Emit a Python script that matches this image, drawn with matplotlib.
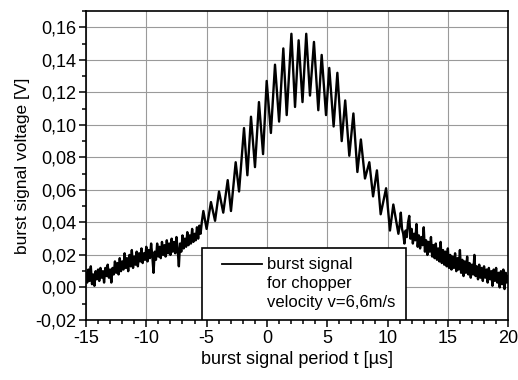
import matplotlib
matplotlib.use("Agg")
import matplotlib.pyplot as plt
import numpy as np
from matplotlib.ticker import MultipleLocator, FuncFormatter
from matplotlib.patches import Rectangle

plt.rcParams['font.family'] = ['Liberation Sans', 'DejaVu Sans']
plt.rcParams['axes.unicode_minus'] = False

# left tail of the burst, sampled every 0.1 us starting at -15 us  [V]
v_left = [0.009, 0.003, 0.011, 0.004, 0.013, 0.002, 0.008, 0.001, 0.010, 0.005,
          0.011, 0.004, 0.012, 0.006, 0.010, 0.003, 0.012, 0.007, 0.014, 0.006,
          0.011, 0.003, 0.012, 0.008, 0.016, 0.009, 0.015, 0.008, 0.018, 0.010,
          0.016, 0.011, 0.021, 0.012, 0.018, 0.010, 0.020, 0.013, 0.023, 0.012,
          0.019, 0.014, 0.022, 0.013, 0.021, 0.016, 0.024, 0.015, 0.021, 0.017,
          0.025, 0.016, 0.023, 0.018, 0.027, 0.019, 0.009, 0.022, 0.017, 0.027,
          0.019, 0.025, 0.018, 0.028, 0.020, 0.026, 0.019, 0.029, 0.021, 0.027,
          0.020, 0.030, 0.022, 0.028, 0.021, 0.031, 0.023, 0.013, 0.027, 0.022,
          0.032, 0.024, 0.030, 0.025, 0.034, 0.026, 0.032, 0.027, 0.036, 0.028,
          0.033, 0.029, 0.037, 0.030, 0.038, 0.033, 0.040]

# central part: alternating maxima / minima of the chopper oscillation
t_mid = [-5.27, -5.0, -4.64, -4.30, -3.97, -3.62, -3.25, -2.98, -2.59, -2.31,
         -1.90, -1.62, -1.32, -0.99, -0.66, -0.32, -0.02, 0.33, 0.67, 1.01,
         1.36, 1.64, 2.03, 2.33, 2.63, 2.95, 3.26, 3.57, 3.90, 4.26,
         4.54, 4.90, 5.17, 5.53, 5.84, 6.20, 6.49, 6.83, 7.17, 7.50,
         7.79, 8.13, 8.49, 8.80, 9.12, 9.43, 9.88, 10.20, 10.48, 10.90]
v_mid = [0.047, 0.036, 0.0525, 0.041, 0.059, 0.046, 0.066, 0.047, 0.077, 0.059,
         0.098, 0.069, 0.105, 0.074, 0.114, 0.082, 0.127, 0.095, 0.137, 0.102,
         0.147, 0.106, 0.156, 0.111, 0.152, 0.114, 0.156, 0.118, 0.151, 0.109,
         0.143, 0.106, 0.135, 0.099, 0.132, 0.090, 0.115, 0.081, 0.107, 0.071,
         0.091, 0.067, 0.077, 0.056, 0.072, 0.045, 0.061, 0.035, 0.051, 0.033]

# right tail, sampled every 0.1 us starting at 11 us  [V]
v_right = [0.038, 0.046, 0.036, 0.033, 0.027, 0.035, 0.031, 0.040, 0.044, 0.030,
           0.036, 0.027, 0.033, 0.029, 0.039, 0.025, 0.032, 0.024, 0.031, 0.026,
           0.037, 0.022, 0.029, 0.020, 0.028, 0.022, 0.031, 0.019, 0.026, 0.018,
           0.027, 0.017, 0.024, 0.016, 0.028, 0.015, 0.023, 0.014, 0.022, 0.013,
           0.024, 0.012, 0.020, 0.011, 0.019, 0.012, 0.021, 0.010, 0.018, 0.011,
           0.023, 0.009, 0.017, 0.007, 0.016, 0.009, 0.019, 0.008, 0.015, 0.006,
           0.014, 0.008, 0.020, 0.007, 0.013, 0.005, 0.014, 0.006, 0.012, 0.004,
           0.013, 0.006, 0.011, 0.003, 0.012, 0.005, 0.010, 0.001, 0.011, 0.004,
           0.012, 0.003, 0.009, 0.000, 0.010, 0.002, 0.011, -0.001, 0.009, 0.003,
           0.007]

legend_lines = ["burst signal", "for chopper", "velocity v=6,6m/s"]

t_left = -15 + 0.1 * np.arange(len(v_left))
t_right = 11.0 + 0.1 * np.arange(len(v_right))

fig = plt.figure(figsize=(5.18, 3.80), dpi=100)
ax = fig.add_axes([0.166, 0.158, 0.815, 0.813])

t_all = np.concatenate([t_left, t_mid, t_right])
v_all = np.concatenate([v_left, v_mid, v_right])
ax.plot(t_all, v_all, color='black', lw=1.7, zorder=3)

ax.set_xlim(-15, 20)
ax.set_ylim(-0.02, 0.17)
ax.xaxis.set_major_locator(MultipleLocator(5))
ax.xaxis.set_minor_locator(MultipleLocator(1))
ax.yaxis.set_major_locator(MultipleLocator(0.02))
ax.yaxis.set_minor_locator(MultipleLocator(0.01))
ax.yaxis.set_major_formatter(FuncFormatter(lambda v, p: ("%.2f" % v).replace('.', ',')))
ax.xaxis.set_major_formatter(FuncFormatter(lambda v, p: "%d" % round(v)))

ax.tick_params(which='both', direction='out', top=False, right=False,
               labelsize=13, width=1.1)
ax.tick_params(which='major', length=5, pad=2)
ax.tick_params(which='minor', length=3)
for s in ax.spines.values():
    s.set_linewidth(1.2)

ax.grid(True, which='major', color='#9a9a9a', lw=0.8)
ax.set_axisbelow(True)

ax.set_xlabel("burst signal period t [µs]", fontsize=13, labelpad=3)
ax.set_ylabel("burst signal voltage [V]", fontsize=12.5, labelpad=4)

# legend box drawn by hand, sitting on the x axis
box = Rectangle((0.275, 0.0), 0.483, 0.233, transform=ax.transAxes,
                facecolor='white', edgecolor='black', lw=1.2, zorder=5)
ax.add_patch(box)
ax.plot([0.322, 0.417], [0.180, 0.180], transform=ax.transAxes,
        color='black', lw=1.3, zorder=6)
for i, line in enumerate(legend_lines):
    ax.text(0.428, 0.178 - i * 0.0615, line, transform=ax.transAxes,
            fontsize=12, va='center', ha='left', zorder=6)

fig.savefig("out.png", dpi=100)
